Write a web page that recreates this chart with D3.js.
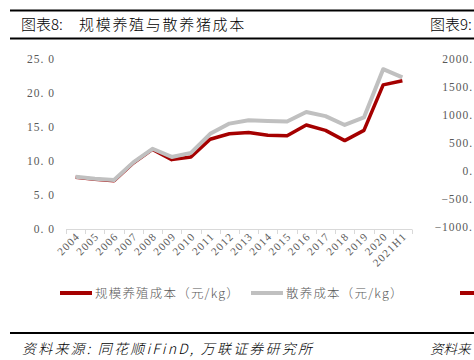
<!DOCTYPE html>
<html>
<head>
<meta charset="utf-8">
<script src="https://cdn.jsdelivr.net/npm/d3@7"></script>
<style>
  body { margin: 0; background: #fff; }
  svg { display: block; }
</style>
</head>
<body>
<div id="chart"></div>
<script>
var years = ["2004", "2005", "2006", "2007", "2008", "2009", "2010", "2011", "2012",
  "2013", "2014", "2015", "2016", "2017", "2018", "2019", "2020", "2021H1"];
// 规模养殖成本（元/kg）
var scaleCost = [7.6, 7.3, 7.1, 9.7, 11.7, 10.2, 10.6, 13.2, 14.0,
  14.2, 13.8, 13.7, 15.3, 14.5, 13.0, 14.5, 21.2, 21.8];
// 散养成本（元/kg）
var freeCost = [7.7, 7.4, 7.2, 9.8, 11.8, 10.6, 11.2, 14.0, 15.5,
  16.0, 15.9, 15.8, 17.2, 16.6, 15.3, 16.4, 23.5, 22.3];
var yTicks = [0, 5, 10, 15, 20, 25];
var rightTicks = [2000, 1500, 1000, 500, 0, -500, -1000];

var width = 474,
  height = 360;

var svg = d3
  .select("#chart")
  .append("svg")
  .attr("width", width)
  .attr("height", height);

var cjk = "'Noto Sans CJK SC', sans-serif";
var numFont = "'Liberation Serif', serif";

//title bars
svg.append("line").attr("x1", 10).attr("x2", 474).attr("y1", 10.5).attr("y2", 10.5)
  .attr("stroke", "#000").attr("stroke-width", 2);
svg.append("line").attr("x1", 10).attr("x2", 474).attr("y1", 38.5).attr("y2", 38.5)
  .attr("stroke", "#000").attr("stroke-width", 2);
svg.append("text").attr("x", 21).attr("y", 30)
  .attr("font-family", cjk).attr("font-size", 15).attr("font-weight", 300).attr("fill", "#000")
  .text("图表8:");
svg.append("text").attr("x", 79).attr("y", 30)
  .attr("font-family", cjk).attr("font-size", 15).attr("font-weight", 300)
  .attr("letter-spacing", 1.7).attr("fill", "#000")
  .text("规模养殖与散养猪成本");
svg.append("text").attr("x", 430).attr("y", 30)
  .attr("font-family", cjk).attr("font-size", 15).attr("font-weight", 300).attr("fill", "#000")
  .text("图表9:");

//source bar
svg.append("line").attr("x1", 10).attr("x2", 474).attr("y1", 333).attr("y2", 333)
  .attr("stroke", "#000").attr("stroke-width", 2);
svg.append("text").attr("x", 22).attr("y", 354)
  .attr("font-family", cjk).attr("font-size", 14).attr("font-style", "italic")
  .attr("font-weight", 300).attr("letter-spacing", 2.2).attr("fill", "#000")
  .text("资料来源:  同花顺iFinD, 万联证券研究所");
svg.append("text").attr("x", 430).attr("y", 354)
  .attr("font-family", cjk).attr("font-size", 13.5).attr("font-style", "italic")
  .attr("font-weight", 300).attr("fill", "#000")
  .text("资料来");

//scales
var x = d3.scaleBand().domain(years).range([66, 412]);
var y = d3.scaleLinear().domain([0, 25]).range([229, 59]);

//y labels
svg.selectAll(".ylab")
  .data(yTicks)
  .enter()
  .append("text")
  .attr("class", "ylab")
  .attr("x", 55)
  .attr("y", function(d) { return y(d) + 4; })
  .attr("text-anchor", "end")
  .attr("font-family", numFont)
  .attr("font-size", 11.5)
  .attr("letter-spacing", 1)
  .attr("fill", "#595959")
  .text(function(d) { return d3.format(".1f")(d).replace(".", ". "); });

//x axis line and ticks
svg.append("line").attr("x1", 66).attr("x2", 412).attr("y1", 229.5).attr("y2", 229.5)
  .attr("stroke", "#d9d9d9");
var tickPos = years.map(function(d) { return x(d); }).concat([412]);
svg.selectAll(".xtick")
  .data(tickPos)
  .enter()
  .append("line")
  .attr("x1", function(d) { return Math.round(d) + 0.5; })
  .attr("x2", function(d) { return Math.round(d) + 0.5; })
  .attr("y1", 229.5)
  .attr("y2", 234)
  .attr("stroke", "#d9d9d9");

//x labels rotated
svg.selectAll(".xlab")
  .data(years)
  .enter()
  .append("text")
  .attr("class", "xlab")
  .attr("transform", function(d) {
    return "translate(" + (x(d) + x.bandwidth() / 2 + 5) + ",237) rotate(-45)";
  })
  .attr("text-anchor", "end")
  .attr("font-family", numFont)
  .attr("font-size", 11)
  .attr("letter-spacing", 1.2)
  .attr("fill", "#595959")
  .text(function(d) { return d; });

//lines
var line = d3.line()
  .x(function(d, i) { return x(years[i]) + x.bandwidth() / 2; })
  .y(function(d) { return y(d); });

svg.append("path")
  .datum(scaleCost)
  .attr("fill", "none")
  .attr("stroke", "#a50000")
  .attr("stroke-width", 3.5)
  .attr("stroke-linejoin", "round")
  .attr("d", line);

svg.append("path")
  .datum(freeCost)
  .attr("fill", "none")
  .attr("stroke", "#c0c0c0")
  .attr("stroke-width", 4)
  .attr("stroke-linejoin", "round")
  .attr("d", line);

//legend
var legend = [
  { name: "规模养殖成本（元/kg）", color: "#a50000", x: 60 },
  { name: "散养成本（元/kg）", color: "#c0c0c0", x: 251 }
];
legend.forEach(function(l) {
  svg.append("line").attr("x1", l.x).attr("x2", l.x + 32).attr("y1", 293).attr("y2", 293)
    .attr("stroke", l.color).attr("stroke-width", 4);
  svg.append("text").attr("x", l.x + 35).attr("y", 298)
    .attr("font-family", cjk).attr("font-size", 12.5).attr("font-weight", 300)
    .attr("letter-spacing", 1.2).attr("fill", "#595959")
    .text(l.name);
});

//neighbouring chart edge (clipped in the original)
var yr = d3.scaleLinear().domain([-1000, 2000]).range([227, 59]);
svg.selectAll(".rlab")
  .data(rightTicks)
  .enter()
  .append("text")
  .attr("x", 473)
  .attr("y", function(d) { return yr(d) + 4; })
  .attr("text-anchor", "end")
  .attr("font-family", numFont)
  .attr("font-size", 11.5)
  .attr("letter-spacing", 1)
  .attr("fill", "#595959")
  .text(function(d) { return (d < 0 ? "\u2212" : "") + Math.abs(d) + "."; });
svg.append("line").attr("x1", 460).attr("x2", 474).attr("y1", 293).attr("y2", 293)
  .attr("stroke", "#a50000").attr("stroke-width", 4);
</script>
</body>
</html>
